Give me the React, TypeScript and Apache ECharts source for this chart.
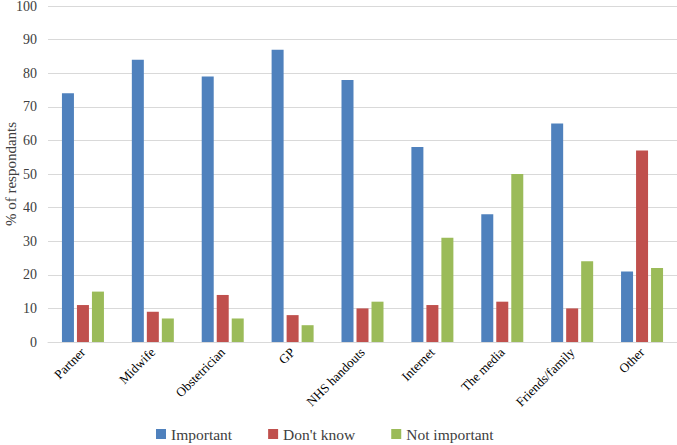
import React, { useEffect, useRef } from "react";
import * as echarts from "echarts";

const categories = ["Partner", "Midwife", "Obstetrician", "GP", "NHS handouts", "Internet", "The media", "Friends/family", "Other"];
const important = [74, 84, 79, 87, 78, 58, 38, 65, 21];
const dontKnow = [11, 9, 14, 8, 10, 11, 12, 10, 57];
const notImportant = [15, 7, 7, 5, 12, 31, 50, 24, 22];

const FONT = "Liberation Serif";

export default function App() {
  const ref = useRef<HTMLDivElement>(null);
  useEffect(() => {
    const chart = echarts.init(ref.current!, undefined, { renderer: "svg" });
    chart.setOption({
      animation: false,
      textStyle: { fontFamily: FONT },
      grid: { left: 48, right: 0, top: 6, bottom: 103, containLabel: false, outerBoundsMode: "none" },
      legend: {
        top: 426,
        left: 156,
        padding: 0,
        itemWidth: 10,
        itemHeight: 10,
        itemGap: 36,
        icon: "rect",
        textStyle: { fontFamily: FONT, fontSize: 15.5, color: "#404040" },
        data: ["Important", "Don't know", "Not important"],
      },
      xAxis: {
        type: "category",
        data: categories,
        axisLine: { lineStyle: { color: "#d9d9d9" } },
        axisTick: { show: false },
        axisLabel: { rotate: 45, interval: 0, fontFamily: FONT, fontSize: 13, color: "#000", margin: 8 },
      },
      yAxis: {
        type: "value",
        min: 0,
        max: 100,
        interval: 10,
        name: "% of respondants",
        nameLocation: "middle",
        nameGap: 30,
        nameMoveOverlap: false,
        nameTextStyle: { fontFamily: FONT, fontSize: 15, color: "#404040" },
        axisLine: { show: false },
        axisTick: { show: false },
        axisLabel: { fontFamily: FONT, fontSize: 14, color: "#404040", margin: 11 },
        splitLine: { lineStyle: { color: "#d9d9d9" } },
      },
      series: [
        { name: "Important", type: "bar", data: important, barWidth: 12, barGap: "25%", itemStyle: { color: "#4F81BD" } },
        { name: "Don't know", type: "bar", data: dontKnow, barWidth: 12, barGap: "25%", itemStyle: { color: "#C0504D" } },
        { name: "Not important", type: "bar", data: notImportant, barWidth: 12, barGap: "25%", itemStyle: { color: "#9BBB59" } },
      ],
    });
    return () => chart.dispose();
  }, []);
  return <div ref={ref} style={{ position: "absolute", left: 0, top: 0, width: 677, height: 445 }} />;
}
